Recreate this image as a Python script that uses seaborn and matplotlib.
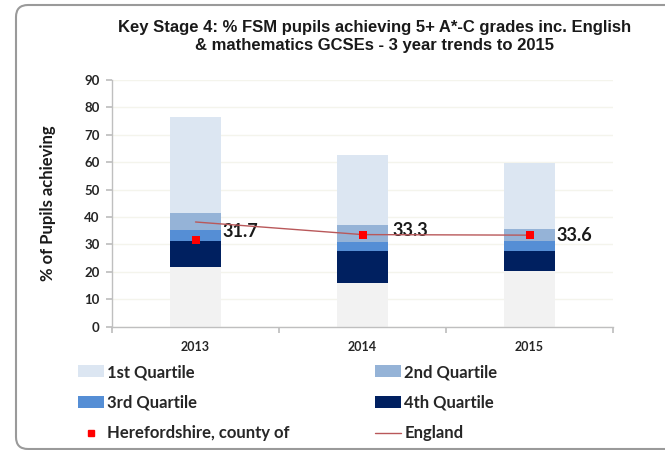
import numpy as np
import pandas as pd
import matplotlib
matplotlib.use("Agg")
import matplotlib.pyplot as plt
import seaborn as sns
from matplotlib.patches import FancyBboxPatch, Patch
from matplotlib.lines import Line2D
from matplotlib.transforms import IdentityTransform

# ---- data (cumulative boundaries) ----
years = ["2013", "2014", "2015"]
base_top = [21.7, 15.8, 20.3]      # invisible/grey base
q4_top = [31.3, 27.5, 27.5]        # 4th quartile top
q3_top = [35.2, 30.8, 31.3]        # 3rd quartile top
q2_top = [41.6, 37.1, 35.6]        # 2nd quartile top
q1_top = [76.6, 62.6, 59.8]        # 1st quartile top
hereford = [31.7, 33.3, 33.6]
england = [38.2, 33.6, 33.4]
yticks = list(range(0, 91, 10))

title = ("Key Stage 4: % FSM pupils achieving 5+ A*-C grades inc. English\n"
         "& mathematics GCSEs - 3 year trends to 2015")

c_q1 = "#DCE6F2"
c_q2 = "#95B3D7"
c_q3 = "#558ED5"
c_q4 = "#002060"
c_base = "#F2F2F2"
c_red = "#FF0000"
c_eng = "#B9585A"

sns.set_theme(style="white")
plt.rcParams["font.family"] = ["Lato", "DejaVu Sans"]

df = pd.DataFrame({"year": years, "base": base_top, "q4": q4_top, "q3": q3_top,
                   "q2": q2_top, "q1": q1_top})

fig = plt.figure(figsize=(6.65, 4.5), dpi=100)
ax = fig.add_axes([112 / 665, 1 - 326.7 / 450, (613 - 112) / 665, (326.7 - 80) / 450])

for col, colr in [("q1", c_q1), ("q2", c_q2), ("q3", c_q3), ("q4", c_q4), ("base", c_base)]:
    sns.barplot(data=df, x="year", y=col, color=colr, saturation=1, width=0.3,
                errorbar=None, linewidth=0, ax=ax)

xpos = np.arange(len(years))
sns.lineplot(x=xpos, y=england, color=c_eng, linewidth=1.0, ax=ax, zorder=4)
sns.scatterplot(x=xpos, y=hereford, color=c_red, marker="s", s=40, linewidth=0,
                ax=ax, zorder=5)

label_offsets = [(27, 8), (30, 5), (27, -1)]
for xi, v, off in zip(xpos, hereford, label_offsets):
    ax.annotate(f"{v:.1f}", (xi, v), xytext=off, textcoords="offset pixels",
                ha="left", va="center", fontsize=13, fontweight="bold", color="#1a1a1a")

ax.set_ylim(0, 90)
ax.set_xlim(-0.5, 2.5)
ax.set_yticks(yticks)
ax.set_yticklabels([str(t) for t in yticks], fontsize=9.5, fontweight="bold", color="#262626")
ax.set_xticks([-0.5, 0.5, 1.5, 2.5])
ax.set_xticklabels([])
ax.set_xticks(xpos, minor=True)
ax.set_xticklabels(years, minor=True, fontsize=9, fontweight="bold", color="#262626")
ax.tick_params(axis="x", which="minor", length=0, pad=10)
ax.tick_params(axis="x", which="major", length=4, color="#BFBFBF", direction="out", bottom=True)
ax.tick_params(axis="y", length=4, color="#BFBFBF", direction="out", left=True, pad=5)
ax.set_xlabel("")
ax.set_ylabel("% of Pupils achieving", fontsize=12, fontweight="bold", color="#1a1a1a",
              labelpad=20)
ax.yaxis.grid(True, color="#F4F4EC", linewidth=1)
ax.set_axisbelow(True)
for s in ["top", "right"]:
    ax.spines[s].set_visible(False)
for s in ["left", "bottom"]:
    ax.spines[s].set_color("#BFBFBF")
    ax.spines[s].set_linewidth(1)

fig.text(374.5 / 665, 1 - 36.5 / 450, title, ha="center", va="center", fontsize=12,
         fontweight="bold", family=["Liberation Sans", "DejaVu Sans"], color="#1a1a1a",
         linespacing=1.2)

lkw = dict(frameon=False, prop={"weight": "bold", "size": 12},
           handlelength=1.55, handletextpad=0.2, labelspacing=0.88, borderpad=0,
           borderaxespad=0, loc="upper left")
left_handles = [Patch(facecolor=c_q1, edgecolor="none"),
                Patch(facecolor=c_q3, edgecolor="none"),
                Line2D([], [], color=c_red, marker="s", ms=5, linestyle="none")]
right_handles = [Patch(facecolor=c_q2, edgecolor="none"),
                 Patch(facecolor=c_q4, edgecolor="none"),
                 Line2D([], [], color=c_eng, linewidth=1)]
leg1 = fig.legend(left_handles, ["1st Quartile", "3rd Quartile", "Herefordshire, county of"],
                  bbox_to_anchor=(78 / 665, 1 - 364 / 450), **lkw)
leg2 = fig.legend(right_handles, ["2nd Quartile", "4th Quartile", "England"],
                  bbox_to_anchor=(375 / 665, 1 - 364 / 450), **lkw)

frame = FancyBboxPatch((16, 1), 700, 444, boxstyle="round,pad=0,rounding_size=12",
                       transform=IdentityTransform(), facecolor="none",
                       edgecolor="#9A9A9A", linewidth=1.5, zorder=10)
fig.patches.append(frame)

fig.savefig("out.png", dpi=100)
